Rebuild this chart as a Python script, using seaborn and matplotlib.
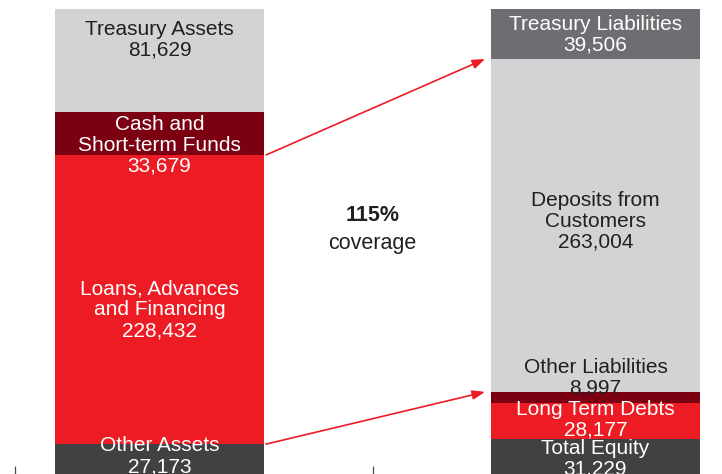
import numpy as np
import pandas as pd
import matplotlib.pyplot as plt
import seaborn as sns

## datos del balance (RM millones)

sides = ["Assets", "Liabilities"]

asset_labels = ["Other Assets", "Loans, Advances\nand Financing",
                "Cash and\nShort-term Funds", "Treasury Assets"]
asset_values = [27173, 228432, 33679, 81629]

liab_labels = ["Total Equity", "Long Term Debts", "Other Liabilities",
               "Deposits from\nCustomers", "Treasury Liabilities"]
liab_values = [31229, 28177, 8997, 263004, 39506]

## estilo

RED = "#ED1C24"
DARK_RED = "#7A0012"
LIGHT = "#D1D3D4"
DARK = "#414042"
MID = "#6D6E71"
INK = "#231F20"

asset_colors = [DARK, RED, DARK_RED, LIGHT]
liab_colors = [DARK, RED, DARK_RED, LIGHT, MID]
asset_text = ["white", "white", "white", INK]
liab_text = ["white", "white", INK, INK, "white"]

# desplazamiento de la etiqueta (px hacia abajo desde el tope del segmento)
asset_off = [12, 155, 33, 31]
liab_off = [19.5, 16.6, -14.4, 162, 26]

sns.set_style("white")
plt.rcParams["font.family"] = ["Liberation Sans", "DejaVu Sans"]

fig = plt.figure(figsize=(7.22, 4.74), dpi=100)
ax = fig.add_axes([0, 0, 1, 1])

bw = 0.479
total = sum(asset_values)
per_px = total / 469.5


def stacked(side, values, colors, labels, tcolors, offs):
    tops = np.cumsum(values)
    # barras acumuladas, de la mas alta a la mas baja
    for i in range(len(values) - 1, -1, -1):
        sns.barplot(x=[side], y=[tops[i]], order=sides, color=colors[i],
                    saturation=1, width=bw, linewidth=0, edgecolor="none",
                    errorbar=None, ax=ax)
    xpos = sides.index(side)
    for i, lab in enumerate(labels):
        ax.annotate(f"{lab}\n{values[i]:,}", xy=(xpos, tops[i]),
                    xytext=(0, -offs[i]), textcoords="offset pixels",
                    ha="center", va="center", fontsize=15,
                    linespacing=1.12, color=tcolors[i])
    return tops


a_tops = stacked("Assets", asset_values, asset_colors, asset_labels, asset_text, asset_off)
l_tops = stacked("Liabilities", liab_values, liab_colors, liab_labels, liab_text, liab_off)

## flechas: prestamos -> depositos
x0 = bw / 2 + 0.005
x1 = 1 - bw / 2 - 0.014
loans_top, loans_bot = a_tops[1], a_tops[0]
dep_top, dep_bot = l_tops[3], l_tops[2]
for ys, ye in [(loans_top, dep_top), (loans_bot, dep_bot)]:
    ax.annotate("", xy=(x1, ye), xytext=(x0, ys),
                arrowprops=dict(arrowstyle="-|>,head_length=0.75,head_width=0.28",
                                color=RED, lw=1.2, shrinkA=0, shrinkB=0))

## cobertura
coverage = liab_values[3] / asset_values[1] * 100
tick_mid = 0.489
ax.text(tick_mid, 0.545, f"{coverage:.0f}%", transform=ax.get_xaxis_transform(),
        ha="center", va="center", fontsize=15.5, fontweight="bold", color=INK)
ax.text(tick_mid, 0.487, "coverage", transform=ax.get_xaxis_transform(),
        ha="center", va="center", fontsize=15.5, color=INK)

ax.set_xlim(-159.5 / 436, (722 - 159.5) / 436)
ax.set_ylim(4.5 * per_px, total + 9 * per_px)
ax.set_xlabel("")
ax.set_ylabel("")
ax.set_xticks([-0.332, tick_mid])
ax.set_xticklabels([])
ax.set_yticks([])
ax.tick_params(axis="x", direction="in", length=5.5, width=0.9,
               color="#4d4d4d", bottom=True)
for s in ax.spines.values():
    s.set_visible(False)

fig.savefig("out.png", dpi=100)
